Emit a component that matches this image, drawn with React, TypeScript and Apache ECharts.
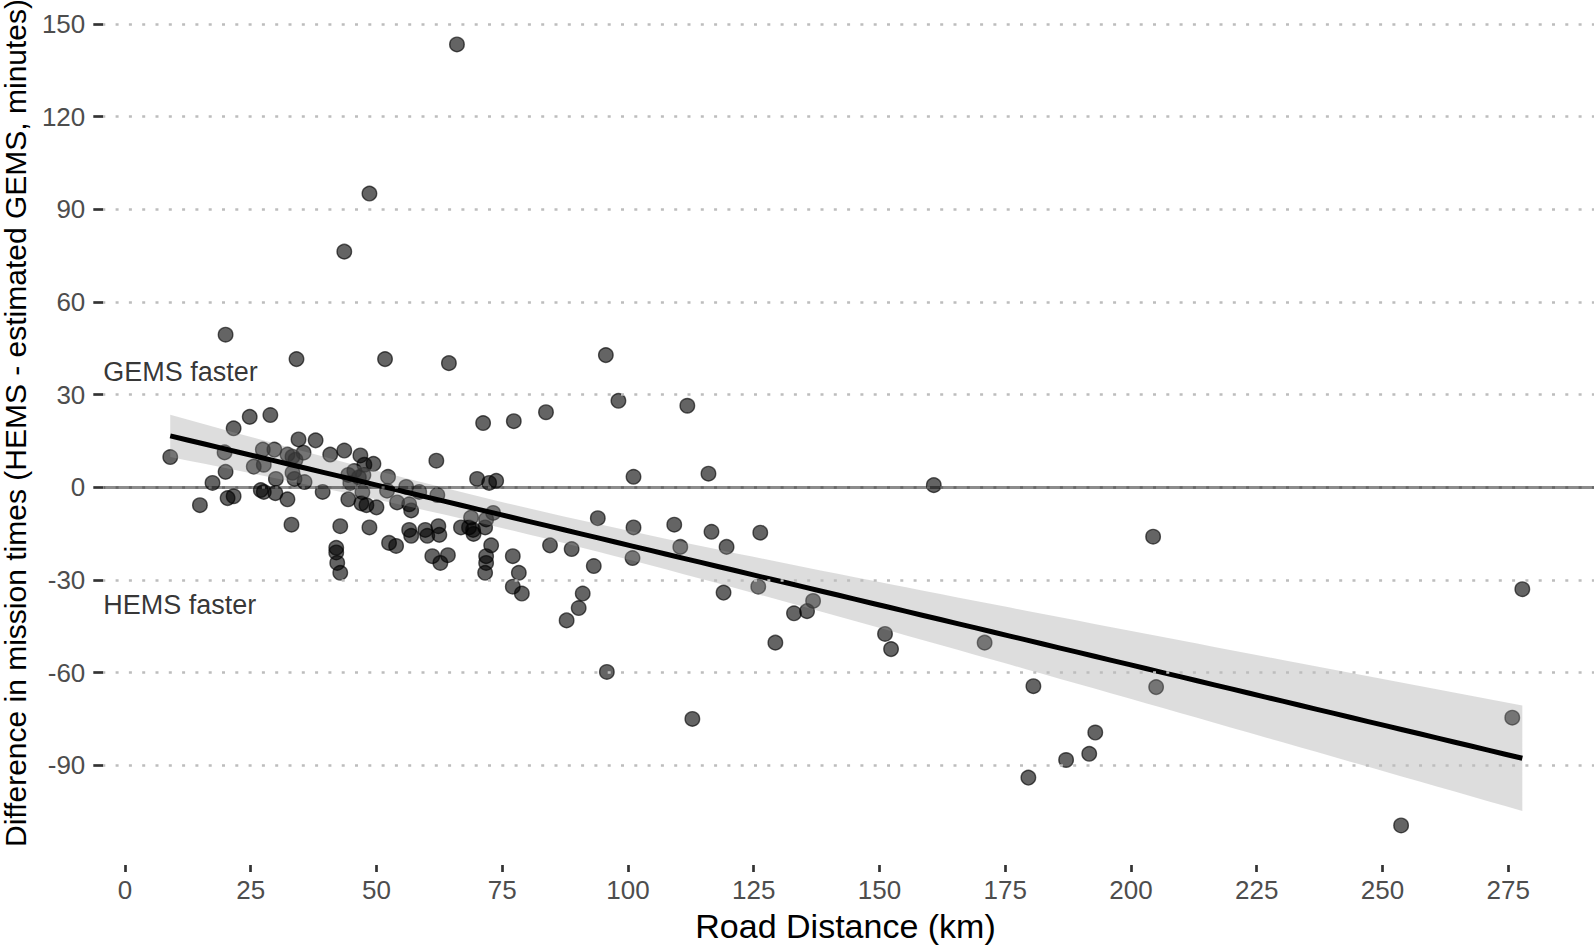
import React, { useEffect, useRef } from "react";
import * as echarts from "echarts";

// Scatter data
const roadKm = [
  9.0, 14.9, 17.4, 20.0, 19.8, 20.0, 20.4, 21.6, 21.6, 24.8, 25.6, 27.6, 27.0, 27.6, 28.9, 27.4, 29.7, 30.0, 29.9, 32.3,
  32.3, 33.1, 33.3, 34.1, 34.5, 35.5, 35.7, 37.9, 39.3, 40.8, 42.0, 42.0, 42.2, 42.8, 42.8, 43.6, 43.6, 44.4, 44.4, 44.8,
  45.6, 46.8, 47.0, 47.4, 47.6, 48.0, 48.6, 48.6, 49.4, 50.0, 51.7, 52.3, 52.5, 53.9, 54.1, 55.9, 56.5, 56.9, 56.5, 56.9,
  58.5, 59.7, 60.1, 61.1, 61.9, 62.1, 62.3, 62.5, 62.7, 64.2, 64.4, 66.0, 66.8, 68.4, 68.8, 69.2, 70.0, 71.2, 71.6, 71.8,
  71.8, 71.6, 71.8, 72.4, 72.8, 73.2, 73.8, 77.3, 77.1, 77.1, 78.3, 78.9, 83.7, 84.5, 87.8, 88.8, 90.2, 91.0, 93.2, 94.0,
  95.6, 95.8, 98.1, 101.1, 101.1, 100.9, 109.2, 110.4, 111.8, 112.8, 116.0, 116.6, 119.0, 119.6, 125.9, 126.3, 129.3, 133.0, 135.6, 136.8,
  151.1, 152.3, 160.8, 170.9, 179.6, 180.6, 187.1, 191.7, 192.9, 204.4, 205.0, 253.7, 275.8, 277.8,
  33.3, 33.9, 33.7, 52.1, 46.5, 47.2, 69.3,
];
const diffMin = [
  9.8, -5.8, 1.4, 49.4, 11.3, 5.0, -3.5, 19.1, -2.9, 22.8, 6.7, 7.3, -0.9, -1.5, 23.4, 12.2, 12.2, 2.7, -1.9, 10.6,
  -3.9, -12.1, 4.7, 41.5, 15.5, 11.2, 1.7, 15.2, -1.5, 10.6, -19.6, -21.1, -24.5, -27.7, -12.6, 76.3, 11.9, 4.0, -3.9, 1.4,
  5.3, 10.3, -5.2, 4.0, 7.3, -5.8, 95.1, -13.0, 7.6, -6.5, 41.5, 3.4, -18.0, -19.0, -4.9, 0.1, -5.5, -7.5, -13.8, -15.7,
  -1.5, -13.8, -15.7, -22.3, 8.6, -2.5, -12.6, -15.4, -24.5, -22.0, 40.2, 143.4, -13.0, -13.0, -9.8, -13.8, 2.7, 20.8, -27.7, -24.5,
  -22.3, -13.0, -10.4, 1.4, -18.8, -8.3, 2.1, 21.4, -22.3, -32.2, -27.7, -34.4, 24.3, -18.8, -43.1, -20.0, -39.1, -34.4, -25.5, -10.0,
  42.8, -59.8, 28.0, 3.4, -13.0, -22.9, -12.1, -19.3, 26.4, -75.0, 4.4, -14.4, -34.1, -19.3, -32.2, -14.7, -50.3, -40.8, -40.1, -36.8,
  -47.5, -52.4, 0.7, -50.3, -94.0, -64.4, -88.3, -86.3, -79.4, -16.0, -64.7, -109.5, -74.6, -33.0,
  9.9, 8.9, 2.7, -1.1, 3.2, -1.6, -15.1,
];

const xTicks = [0, 25, 50, 75, 100, 125, 150, 175, 200, 225, 250, 275];
const yTicks = [-90, -60, -30, 0, 30, 60, 90, 120, 150];
const annotations = [
  { text: "GEMS faster", y: 37.3 },
  { text: "HEMS faster", y: -38.0 },
];

const X_MIN = -4.31;
const X_MAX = 292.05;
const Y_MIN = -122.3;
const Y_MAX = 156;
const FONT = "'Liberation Sans', Arial, Helvetica, sans-serif";

// Linear model (as geom_smooth(method = "lm")) fitted from the scatter data
function fitLm(xs: number[], ys: number[]) {
  const n = xs.length;
  const mx = xs.reduce((a, b) => a + b, 0) / n;
  const my = ys.reduce((a, b) => a + b, 0) / n;
  let sxx = 0;
  let sxy = 0;
  for (let i = 0; i < n; i++) {
    sxx += (xs[i] - mx) ** 2;
    sxy += (xs[i] - mx) * (ys[i] - my);
  }
  const slope = sxy / sxx;
  const intercept = my - slope * mx;
  let sse = 0;
  for (let i = 0; i < n; i++) sse += (ys[i] - intercept - slope * xs[i]) ** 2;
  const s = Math.sqrt(sse / (n - 2));
  const t = 1.977;
  const lo = Math.min(...xs);
  const hi = Math.max(...xs);
  const line: number[][] = [];
  const upper: number[][] = [];
  const lower: number[][] = [];
  const steps = 80;
  for (let k = 0; k < steps; k++) {
    const x = lo + ((hi - lo) * k) / (steps - 1);
    const yh = intercept + slope * x;
    const se = s * Math.sqrt(1 / n + (x - mx) ** 2 / sxx);
    line.push([x, yh]);
    upper.push([x, yh + t * se]);
    lower.push([x, yh - t * se]);
  }
  return { line, upper, lower };
}

export default function App() {
  const ref = useRef<HTMLDivElement>(null);

  useEffect(() => {
    if (!ref.current) return;
    const chart = echarts.init(ref.current, undefined, { renderer: "svg" });
    const fit = fitLm(roadKm, diffMin);
    const points = roadKm.map((x, i) => [x, diffMin[i]]);

    const gridDots = yTicks.map((v) => ({
      yAxis: v,
      lineStyle: { color: "#bdbdbd", width: 2.7, type: [3, 10.3], dashOffset: 1.3 },
    }));

    chart.setOption({
      animation: false,
      backgroundColor: "#ffffff",
      grid: { left: 103.3, right: 0, top: 5.5, bottom: 85, containLabel: false },
      xAxis: {
        type: "value",
        min: X_MIN,
        max: X_MAX,
        axisLine: { show: false, onZero: false },
        splitLine: { show: false },
        axisTick: {
          show: true,
          customValues: xTicks,
          length: 7,
          lineStyle: { color: "#333333", width: 2.7 },
        },
        axisLabel: {
          customValues: xTicks,
          fontSize: 26,
          color: "#4d4d4d",
          fontFamily: FONT,
          margin: 12,
        },
      },
      yAxis: {
        type: "value",
        min: Y_MIN,
        max: Y_MAX,
        axisLine: { show: false, onZero: false },
        splitLine: { show: false },
        axisTick: {
          show: true,
          customValues: yTicks,
          length: 10,
          lineStyle: { color: "#333333", width: 2.7 },
        },
        axisLabel: {
          customValues: yTicks,
          fontSize: 26,
          color: "#4d4d4d",
          fontFamily: FONT,
          margin: 18,
        },
      },
      series: [
        {
          type: "line",
          z: 1,
          data: [[X_MIN, Y_MIN]],
          symbol: "none",
          lineStyle: { opacity: 0 },
          silent: true,
          markLine: {
            silent: true,
            symbol: "none",
            label: { show: false },
            data: [
              ...gridDots,
              { yAxis: 0, lineStyle: { color: "rgba(0,0,0,0.45)", width: 2.8, type: "solid" } },
            ],
          },
        },
        {
          type: "scatter",
          z: 2,
          data: points,
          symbolSize: 14.5,
          itemStyle: {
            color: "rgba(0,0,0,0.76)",
            borderColor: "rgba(0,0,0,0.8)",
            borderWidth: 1.4,
          },
        },
        {
          type: "custom",
          z: 3,
          silent: true,
          data: [[0, 0]],
          renderItem: (_params: any, api: any) => {
            const pts = [
              ...fit.upper.map((p) => api.coord(p)),
              ...fit.lower
                .slice()
                .reverse()
                .map((p) => api.coord(p)),
            ];
            return {
              type: "polygon",
              shape: { points: pts },
              style: { fill: "rgba(153,153,153,0.33)", stroke: "none" },
            };
          },
        },
        {
          type: "line",
          z: 4,
          data: fit.line,
          symbol: "none",
          lineStyle: { color: "#000000", width: 5 },
          silent: true,
        },
        {
          type: "scatter",
          z: 5,
          symbolSize: 0,
          silent: true,
          data: annotations.map((a) => ({ value: [X_MIN, a.y], name: a.text })),
          label: {
            show: true,
            position: "right",
            distance: 0,
            formatter: (p: any) => p.name,
            fontSize: 27,
            color: "#000000",
            fontFamily: FONT,
          },
        },
      ],
      graphic: [
        {
          type: "text",
          x: 15,
          y: 423,
          rotation: Math.PI / 2,
          style: {
            text: "Difference in mission times (HEMS - estimated GEMS, minutes)",
            fontSize: 30,
            fontFamily: FONT,
            fill: "#000000",
            textAlign: "center",
            textVerticalAlign: "middle",
          },
        },
        {
          type: "text",
          x: 845.5,
          y: 926,
          style: {
            text: "Road Distance (km)",
            fontSize: 34,
            fontFamily: FONT,
            fill: "#000000",
            textAlign: "center",
            textVerticalAlign: "middle",
          },
        },
      ],
    });

    return () => chart.dispose();
  }, []);

  return (
    <div
      ref={ref}
      style={{ position: "absolute", left: 0, top: 0, width: 1594, height: 950 }}
    />
  );
}
